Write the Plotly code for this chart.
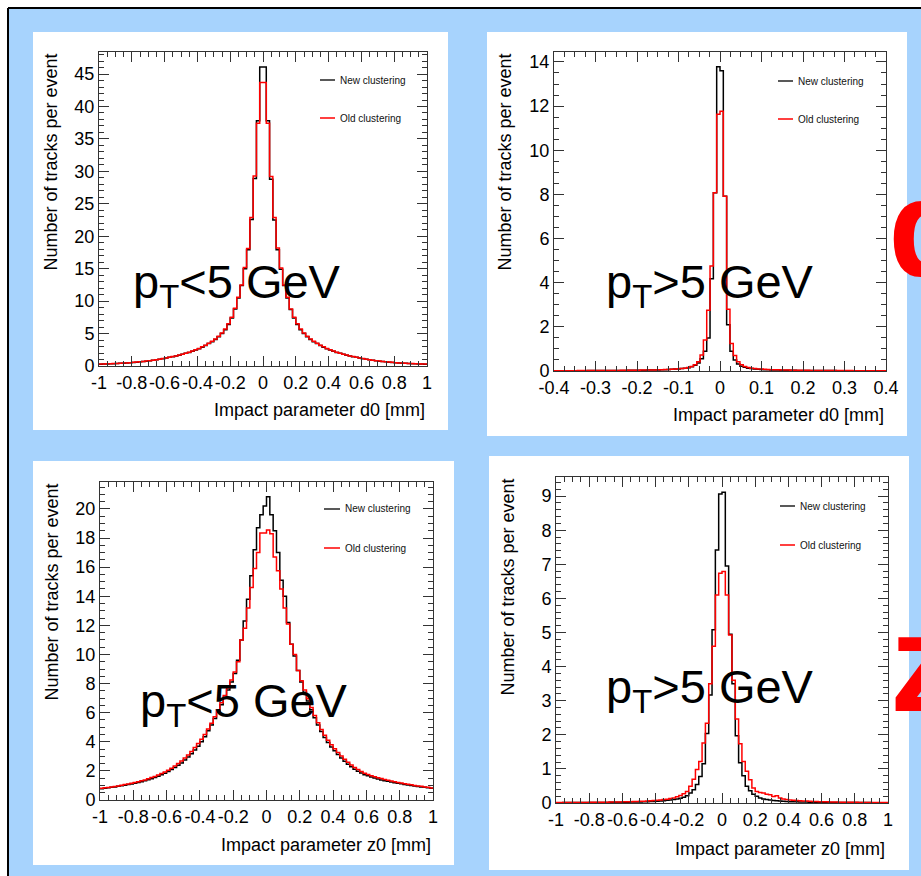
import numpy as np
import plotly.graph_objects as go

W, H = 921, 876
FONT = "Liberation Sans, Arial, Helvetica, sans-serif"

# ---------------- data (bin contents, 100 bins per histogram) ----------------
D0_LOW_NEW = [
    0.28, 0.30, 0.32, 0.34, 0.36, 0.38, 0.41, 0.44, 0.47, 0.51,
    0.55, 0.59, 0.64, 0.69, 0.75, 0.81, 0.88, 0.96, 1.04, 1.13,
    1.23, 1.33, 1.43, 1.54, 1.66, 1.80, 1.95, 2.10, 2.27, 2.45,
    2.65, 2.90, 3.15, 3.45, 3.75, 4.10, 4.50, 5.00, 5.60, 6.40,
    7.40, 8.80, 10.5, 12.4, 15.0, 17.9, 22.6, 28.9, 37.8, 46.1,
    46.1, 37.8, 28.8, 22.5, 17.9, 14.9, 12.4, 10.5, 8.70, 7.40,
    6.40, 5.60, 5.00, 4.50, 4.10, 3.75, 3.45, 3.15, 2.90, 2.65,
    2.45, 2.27, 2.10, 1.95, 1.80, 1.66, 1.54, 1.43, 1.33, 1.23,
    1.13, 1.04, 0.96, 0.88, 0.81, 0.75, 0.69, 0.64, 0.59, 0.55,
    0.51, 0.47, 0.44, 0.41, 0.38, 0.36, 0.34, 0.32, 0.30, 0.28,
]
D0_LOW_OLD = [
    0.29, 0.31, 0.33, 0.35, 0.37, 0.39, 0.42, 0.45, 0.48, 0.52,
    0.56, 0.60, 0.65, 0.70, 0.76, 0.82, 0.89, 0.97, 1.05, 1.14,
    1.24, 1.34, 1.45, 1.56, 1.68, 1.82, 1.97, 2.13, 2.30, 2.50,
    2.70, 2.95, 3.20, 3.50, 3.80, 4.15, 4.60, 5.10, 5.70, 6.50,
    7.50, 8.90, 10.6, 12.5, 15.2, 18.1, 22.9, 29.3, 37.4, 43.7,
    43.7, 37.4, 29.2, 22.9, 18.2, 15.1, 12.5, 10.6, 8.80, 7.50,
    6.50, 5.70, 5.10, 4.60, 4.15, 3.80, 3.50, 3.20, 2.95, 2.70,
    2.50, 2.30, 2.13, 1.97, 1.82, 1.68, 1.56, 1.45, 1.34, 1.24,
    1.14, 1.05, 0.97, 0.89, 0.82, 0.76, 0.70, 0.65, 0.60, 0.56,
    0.52, 0.48, 0.45, 0.42, 0.39, 0.37, 0.35, 0.33, 0.31, 0.29,
]
D0_HIGH_NEW = [
    0.011, 0.012, 0.012, 0.013, 0.013, 0.014, 0.014, 0.015, 0.016, 0.016,
    0.017, 0.018, 0.018, 0.019, 0.020, 0.021, 0.022, 0.023, 0.024, 0.025,
    0.026, 0.027, 0.029, 0.030, 0.032, 0.034, 0.036, 0.038, 0.040, 0.042,
    0.045, 0.050, 0.055, 0.060, 0.067, 0.075, 0.085, 0.095, 0.110, 0.125,
    0.15, 0.19, 0.26, 0.36, 0.56, 0.90, 1.50, 4.18, 8.07, 13.78,
    13.60, 7.92, 2.10, 0.90, 0.50, 0.32, 0.22, 0.17, 0.13, 0.11,
    0.090, 0.080, 0.070, 0.062, 0.056, 0.050, 0.046, 0.042, 0.039, 0.036,
    0.034, 0.032, 0.030, 0.028, 0.027, 0.025, 0.024, 0.023, 0.022, 0.021,
    0.020, 0.019, 0.018, 0.018, 0.017, 0.016, 0.016, 0.015, 0.015, 0.014,
    0.014, 0.013, 0.013, 0.012, 0.012, 0.012, 0.011, 0.011, 0.010, 0.010,
]
D0_HIGH_OLD = [
    0.013, 0.013, 0.014, 0.014, 0.015, 0.016, 0.016, 0.017, 0.018, 0.018,
    0.019, 0.020, 0.021, 0.022, 0.023, 0.024, 0.025, 0.026, 0.027, 0.028,
    0.030, 0.031, 0.033, 0.035, 0.037, 0.039, 0.041, 0.043, 0.045, 0.047,
    0.050, 0.055, 0.060, 0.066, 0.073, 0.080, 0.090, 0.100, 0.115, 0.130,
    0.16, 0.20, 0.28, 0.42, 0.72, 1.40, 2.75, 4.76, 8.07, 11.63,
    11.77, 7.92, 2.80, 1.25, 0.70, 0.42, 0.28, 0.20, 0.16, 0.13,
    0.110, 0.095, 0.085, 0.075, 0.068, 0.062, 0.056, 0.051, 0.047, 0.044,
    0.041, 0.038, 0.036, 0.034, 0.032, 0.030, 0.029, 0.027, 0.026, 0.025,
    0.024, 0.023, 0.022, 0.021, 0.020, 0.019, 0.019, 0.018, 0.017, 0.017,
    0.016, 0.016, 0.015, 0.015, 0.014, 0.014, 0.013, 0.013, 0.012, 0.012,
]
Z0_LOW_NEW = [
    0.78, 0.81, 0.84, 0.87, 0.90, 0.94, 0.98, 1.02, 1.06, 1.10,
    1.15, 1.20, 1.26, 1.32, 1.39, 1.46, 1.54, 1.63, 1.73, 1.84,
    1.96, 2.09, 2.23, 2.38, 2.55, 2.74, 2.95, 3.18, 3.43, 3.70,
    4.00, 4.35, 4.75, 5.15, 5.60, 6.05, 6.55, 7.05, 7.55, 8.10,
    8.70, 9.60, 11.0, 12.3, 13.8, 15.4, 17.2, 18.7, 19.6, 20.2,
    20.84, 19.6, 18.5, 17.0, 15.1, 14.0, 12.2, 10.7, 9.90, 8.90,
    8.10, 7.40, 6.80, 6.20, 5.65, 5.15, 4.70, 4.30, 3.95, 3.65,
    3.38, 3.12, 2.88, 2.66, 2.46, 2.28, 2.12, 1.98, 1.85, 1.74,
    1.66, 1.58, 1.51, 1.44, 1.38, 1.33, 1.28, 1.23, 1.19, 1.15,
    1.11, 1.07, 1.03, 0.99, 0.96, 0.93, 0.90, 0.87, 0.84, 0.80,
]
Z0_LOW_OLD = [
    0.80, 0.84, 0.86, 0.90, 0.93, 0.97, 1.01, 1.06, 1.10, 1.15,
    1.20, 1.26, 1.32, 1.38, 1.46, 1.54, 1.62, 1.71, 1.82, 1.93,
    2.05, 2.19, 2.34, 2.50, 2.68, 2.88, 3.10, 3.34, 3.60, 3.88,
    4.18, 4.50, 4.88, 5.28, 5.72, 6.18, 6.68, 7.18, 7.70, 8.25,
    8.80, 9.50, 11.0, 11.8, 13.2, 14.6, 15.9, 17.0, 18.35, 18.35,
    18.55, 18.3, 16.7, 15.75, 14.5, 13.2, 12.1, 10.7, 10.0, 8.90,
    8.20, 7.55, 6.95, 6.35, 5.80, 5.30, 4.85, 4.45, 4.10, 3.80,
    3.52, 3.26, 3.02, 2.80, 2.60, 2.41, 2.24, 2.09, 1.96, 1.84,
    1.75, 1.67, 1.60, 1.53, 1.47, 1.41, 1.35, 1.30, 1.25, 1.20,
    1.16, 1.12, 1.08, 1.04, 1.00, 0.97, 0.94, 0.90, 0.87, 0.83,
]
Z0_HIGH_NEW = [
    0.010, 0.010, 0.011, 0.011, 0.012, 0.012, 0.013, 0.013, 0.014, 0.014,
    0.015, 0.015, 0.016, 0.017, 0.017, 0.018, 0.019, 0.020, 0.021, 0.022,
    0.023, 0.024, 0.026, 0.028, 0.030, 0.032, 0.035, 0.038, 0.042, 0.047,
    0.053, 0.060, 0.068, 0.078, 0.090, 0.10, 0.12, 0.14, 0.17, 0.21,
    0.29, 0.39, 0.54, 0.78, 1.15, 2.04, 3.17, 5.08, 7.42, 9.06,
    9.11, 6.95, 4.95, 3.50, 1.97, 1.18, 0.80, 0.49, 0.36, 0.26,
    0.20, 0.15, 0.12, 0.10, 0.085, 0.075, 0.066, 0.058, 0.051, 0.045,
    0.040, 0.036, 0.033, 0.030, 0.028, 0.026, 0.024, 0.022, 0.021, 0.020,
    0.019, 0.018, 0.017, 0.016, 0.016, 0.015, 0.014, 0.014, 0.013, 0.013,
    0.012, 0.012, 0.011, 0.011, 0.011, 0.010, 0.010, 0.010, 0.009, 0.009,
]
Z0_HIGH_OLD = [
    0.012, 0.012, 0.013, 0.013, 0.014, 0.015, 0.015, 0.016, 0.017, 0.018,
    0.019, 0.020, 0.021, 0.022, 0.023, 0.024, 0.026, 0.027, 0.029, 0.031,
    0.033, 0.035, 0.038, 0.041, 0.044, 0.048, 0.052, 0.057, 0.063, 0.070,
    0.078, 0.088, 0.10, 0.11, 0.13, 0.15, 0.18, 0.22, 0.27, 0.34,
    0.49, 0.70, 0.98, 1.22, 1.76, 2.34, 3.50, 4.60, 6.10, 6.74,
    6.79, 6.10, 4.93, 3.60, 2.46, 1.74, 1.22, 0.93, 0.68, 0.44,
    0.34, 0.31, 0.29, 0.26, 0.24, 0.19, 0.21, 0.15, 0.12, 0.10,
    0.090, 0.080, 0.070, 0.065, 0.060, 0.055, 0.050, 0.046, 0.042, 0.039,
    0.036, 0.033, 0.031, 0.029, 0.027, 0.025, 0.024, 0.022, 0.021, 0.020,
    0.019, 0.018, 0.017, 0.016, 0.015, 0.015, 0.014, 0.013, 0.013, 0.012,
]

X_TICKVALS_WIDE = [-1, -0.8, -0.6, -0.4, -0.2, 0, 0.2, 0.4, 0.6, 0.8, 1]
X_TICKTEXT_WIDE = ["-1", "-0.8", "-0.6", "-0.4", "-0.2", "0", "0.2", "0.4", "0.6", "0.8", "1"]
X_TICKVALS_NARROW = [-0.4, -0.3, -0.2, -0.1, 0, 0.1, 0.2, 0.3, 0.4]
X_TICKTEXT_NARROW = ["-0.4", "-0.3", "-0.2", "-0.1", "0", "0.1", "0.2", "0.3", "0.4"]

SERIES_NAMES = ["New clustering", "Old clustering"]
X_TITLES = ["Impact parameter d0 [mm]", "Impact parameter d0 [mm]",
            "Impact parameter z0 [mm]", "Impact parameter z0 [mm]"]
Y_TITLE = "Number of tracks per event"
PANEL_LABELS = ["p<sub>T</sub>&lt;5 GeV", "p<sub>T</sub>&gt;5 GeV",
                "p<sub>T</sub>&lt;5 GeV", "p<sub>T</sub>&gt;5 GeV"]

# ---------------- layout geometry (pixels) ----------------
def fx(px):
    return px / W


def fy(py):
    return 1 - py / H


panels = [
    dict(new=D0_LOW_NEW, old=D0_LOW_OLD, xr=(-1, 1), ymax=48.4,
         plot=(99, 52, 427, 366), box=(33, 32, 448, 430),
         tv=X_TICKVALS_WIDE, tt=X_TICKTEXT_WIDE, xminor=0.05,
         ydt=5, yminor=1, leg=(320, 335, 80, 118), ytx=51,
         xt=(427, 410), lab=(131, 285)),
    dict(new=D0_HIGH_NEW, old=D0_HIGH_OLD, xr=(-0.4, 0.4), ymax=14.45,
         plot=(554, 52, 886, 371), box=(487, 32, 907, 436),
         tv=X_TICKVALS_NARROW, tt=X_TICKTEXT_NARROW, xminor=0.025,
         ydt=2, yminor=0.5, leg=(778, 793, 81, 119), ytx=505,
         xt=(886, 415), lab=(604, 285)),
    dict(new=Z0_LOW_NEW, old=Z0_LOW_OLD, xr=(-1, 1), ymax=21.85,
         plot=(100, 482, 433, 800), box=(33, 461, 454, 865),
         tv=X_TICKVALS_WIDE, tt=X_TICKTEXT_WIDE, xminor=0.05,
         ydt=2, yminor=0.5, leg=(324, 340, 509, 548), ytx=51,
         xt=(433, 845), lab=(138, 704)),
    dict(new=Z0_HIGH_NEW, old=Z0_HIGH_OLD, xr=(-1, 1), ymax=9.56,
         plot=(556, 477, 888, 803), box=(489, 456, 909, 870),
         tv=X_TICKVALS_WIDE, tt=X_TICKTEXT_WIDE, xminor=0.05,
         ydt=1, yminor=0.2, leg=(780, 795, 506, 545), ytx=507,
         xt=(887, 849), lab=(604, 690)),
]

AX = "#333333"
fig = go.Figure()
shapes = []
annotations = []

# slide background
shapes.append(dict(type="rect", xref="paper", yref="paper", layer="below",
                   x0=fx(8), x1=1, y0=0, y1=fy(8),
                   fillcolor="#A7D3FD", line=dict(width=0)))
shapes.append(dict(type="line", xref="paper", yref="paper", layer="below",
                   x0=fx(8), x1=1, y0=fy(8), y1=fy(8),
                   line=dict(color="black", width=2)))
shapes.append(dict(type="line", xref="paper", yref="paper", layer="below",
                   x0=fx(8), x1=fx(8), y0=fy(8), y1=0,
                   line=dict(color="black", width=2)))

for i, p in enumerate(panels, start=1):
    xa = "x" if i == 1 else f"x{i}"
    ya = "y" if i == 1 else f"y{i}"
    n = len(p["new"])
    edges = np.linspace(p["xr"][0], p["xr"][1], n + 1)
    for vals, color, name in [(p["new"], "#000000", SERIES_NAMES[0]),
                              (p["old"], "#FF0000", SERIES_NAMES[1])]:
        fig.add_trace(go.Scatter(
            x=edges, y=list(vals) + [vals[-1]], mode="lines",
            line=dict(color=color, width=1.5, shape="hv"),
            name=name, showlegend=False, xaxis=xa, yaxis=ya,
            hoverinfo="skip"))

    x0, y0, x1, y1 = p["plot"]
    bx0, by0, bx1, by1 = p["box"]
    shapes.append(dict(type="rect", xref="paper", yref="paper", layer="below",
                       x0=fx(bx0), x1=fx(bx1), y0=fy(by1), y1=fy(by0),
                       fillcolor="white", line=dict(width=0)))

    tickfont = dict(family=FONT, size=18, color="black")
    xkey = "xaxis" if i == 1 else f"xaxis{i}"
    ykey = "yaxis" if i == 1 else f"yaxis{i}"
    fig.layout[xkey] = dict(
        domain=[fx(x0), fx(x1)], range=list(p["xr"]), anchor=ya,
        tickmode="array", tickvals=p["tv"], ticktext=p["tt"], tickangle=0,
        ticks="inside", ticklen=10, tickwidth=1, tickcolor=AX,
        showline=True, linecolor=AX, linewidth=1, mirror="allticks",
        minor=dict(ticks="inside", ticklen=5, tickmode="linear",
                   tick0=0, dtick=p["xminor"], tickcolor=AX, tickwidth=1,
                   showgrid=False),
        showgrid=False, zeroline=False, tickfont=tickfont, fixedrange=True,
        automargin=False)
    fig.layout[ykey] = dict(
        domain=[fy(y1), fy(y0)], range=[0, p["ymax"]], anchor=xa,
        tickmode="linear", tick0=0, dtick=p["ydt"], tickangle=0,
        ticks="inside", ticklen=10, tickwidth=1, tickcolor=AX,
        showline=True, linecolor=AX, linewidth=1, mirror="allticks",
        minor=dict(ticks="inside", ticklen=5, tickmode="linear",
                   tick0=0, dtick=p["yminor"], tickcolor=AX, tickwidth=1,
                   showgrid=False),
        showgrid=False, zeroline=False, tickfont=tickfont, fixedrange=True,
        automargin=False)

    # axis titles (ROOT style: aligned to the axis end)
    annotations.append(dict(
        text=X_TITLES[i - 1], xref="paper", yref="paper",
        x=fx(p["xt"][0]), y=fy(p["xt"][1]), xanchor="right", yanchor="middle",
        showarrow=False, font=dict(family=FONT, size=18, color="black")))
    annotations.append(dict(
        text=Y_TITLE, xref="paper", yref="paper", textangle=-90,
        x=fx(p["ytx"]), y=fy(y0), xanchor="center", yanchor="top",
        showarrow=False, font=dict(family=FONT, size=18, color="black")))

    # legend
    lx0, lx1, ly_new, ly_old = p["leg"]
    for ly, color, name in [(ly_new, "#222222", SERIES_NAMES[0]),
                            (ly_old, "#FF0000", SERIES_NAMES[1])]:
        shapes.append(dict(type="line", xref="paper", yref="paper",
                           x0=fx(lx0), x1=fx(lx1), y0=fy(ly), y1=fy(ly),
                           line=dict(color=color, width=1.5)))
        annotations.append(dict(
            text=name, xref="paper", yref="paper",
            x=fx(lx1 + 3), y=fy(ly), xanchor="left", yanchor="middle",
            showarrow=False, font=dict(family=FONT, size=10, color="#111")))

    # big pT label
    annotations.append(dict(
        text=PANEL_LABELS[i - 1], xref="paper", yref="paper",
        x=fx(p["lab"][0]), y=fy(p["lab"][1]), xanchor="left", yanchor="middle",
        showarrow=False, font=dict(family=FONT, size=47, color="black")))

# slide titles cut at the right edge
annotations.append(dict(
    text="<b>d0</b>", xref="paper", yref="paper", x=fx(886), y=fy(228),
    xanchor="left", yanchor="middle", showarrow=False,
    font=dict(family=FONT, size=140, color="#FF0000")))
annotations.append(dict(
    text="<b>z0</b>", xref="paper", yref="paper", x=fx(888), y=fy(662),
    xanchor="left", yanchor="middle", showarrow=False,
    font=dict(family=FONT, size=140, color="#FF0000")))

fig.update_layout(
    width=W, height=H, autosize=False,
    margin=dict(l=0, r=0, t=0, b=0, pad=0, autoexpand=False),
    paper_bgcolor="white", plot_bgcolor="white",
    shapes=shapes, annotations=annotations, showlegend=False,
    font=dict(family=FONT, color="black"),
)

fig.write_html("out.html", config={"displayModeBar": False},
               post_script="document.body.style.margin='0';document.body.style.overflow='hidden';")
